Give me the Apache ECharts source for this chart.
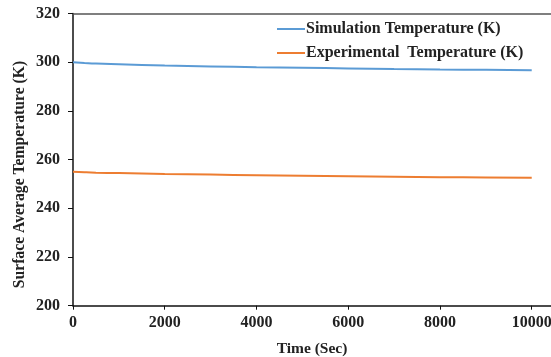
<!DOCTYPE html>
<html>
<head>
<meta charset="utf-8">
<script src="https://cdn.jsdelivr.net/npm/echarts@6/dist/echarts.min.js"></script>
<style>
html,body{margin:0;padding:0;background:#fff;}
#c{width:551px;height:357px;}
</style>
</head>
<body>
<div id="c"></div>
<script>
var times = [0, 250, 500, 1000, 2000, 3000, 4000, 5000, 6000, 7000, 8000, 9000, 10000];
var simulation = [300.0, 299.7, 299.45, 299.15, 298.6, 298.25, 297.95, 297.7, 297.45, 297.2, 297.0, 296.85, 296.7];
var experimental = [255.0, 254.8, 254.65, 254.45, 254.1, 253.85, 253.6, 253.4, 253.2, 253.0, 252.8, 252.65, 252.5];
var xTicks = [0, 2000, 4000, 6000, 8000, 10000];
var seriesNames = ['Simulation Temperature (K)', 'Experimental  Temperature (K)'];
var colors = ['#5B9BD5', '#ED7D31'];

function pairs(xs, ys) { return xs.map(function (x, i) { return [x, ys[i]]; }); }

var font = '"Liberation Serif", "Times New Roman", serif';
var chart = echarts.init(document.getElementById('c'), null, {renderer: 'canvas'});
chart.setOption({
  animation: false,
  backgroundColor: '#fff',
  grid: {left: 73, right: 0, top: 13.5, bottom: 51.3, containLabel: false, outerBoundsMode: 'none'},
  legend: {
    orient: 'vertical', left: 277, top: 21, padding: 0, itemWidth: 28, itemHeight: 2, itemGap: 8,
    icon: 'rect',
    textStyle: {fontFamily: font, fontWeight: 'bold', fontSize: 16, color: '#222', padding: [0, 0, 0, -4]},
    data: seriesNames
  },
  xAxis: [{
    type: 'value', min: 0, max: 10420,
    axisLine: {show: true, lineStyle: {color: '#111', width: 1.5}},
    axisTick: {show: true, length: 4, customValues: xTicks, lineStyle: {color: '#111'}},
    axisLabel: {customValues: xTicks, margin: 9, fontFamily: font, fontWeight: 'bold', fontSize: 16, color: '#222',
      formatter: function (v) { return String(v); }},
    splitLine: {show: false},
    name: 'Time (Sec)', nameLocation: 'middle', nameGap: 35,
    nameTextStyle: {fontFamily: font, fontWeight: 'bold', fontSize: 15.5, color: '#222'}
  }, {
    type: 'value', position: 'top', min: 0, max: 10420,
    axisLine: {show: true, onZero: false, lineStyle: {color: '#555', width: 1.5}},
    axisTick: {show: false}, axisLabel: {show: false}, splitLine: {show: false}
  }],
  yAxis: {
    type: 'value', min: 200, max: 320, interval: 20,
    axisLine: {show: true, lineStyle: {color: '#111', width: 1.5}},
    axisTick: {show: true, length: 5, inside: false, lineStyle: {color: '#111'}},
    axisLabel: {margin: 13, fontFamily: font, fontWeight: 'bold', fontSize: 16, color: '#222'},
    splitLine: {show: false}
  },
  graphic: [{
    type: 'text', x: 20, y: 174.5, rotation: Math.PI / 2,
    style: {text: 'Surface Average Temperature (K)', fontFamily: font, fontWeight: 'bold', fontSize: 15.7, fill: '#222', align: 'center', verticalAlign: 'middle'}
  }],
  series: [{
    name: seriesNames[0], type: 'line', xAxisIndex: 0, data: pairs(times, simulation),
    showSymbol: false, smooth: true, lineStyle: {color: colors[0], width: 2}, itemStyle: {color: colors[0]}
  }, {
    name: seriesNames[1], type: 'line', xAxisIndex: 0, data: pairs(times, experimental),
    showSymbol: false, smooth: true, lineStyle: {color: colors[1], width: 2}, itemStyle: {color: colors[1]}
  }]
});
</script>
</body>
</html>
